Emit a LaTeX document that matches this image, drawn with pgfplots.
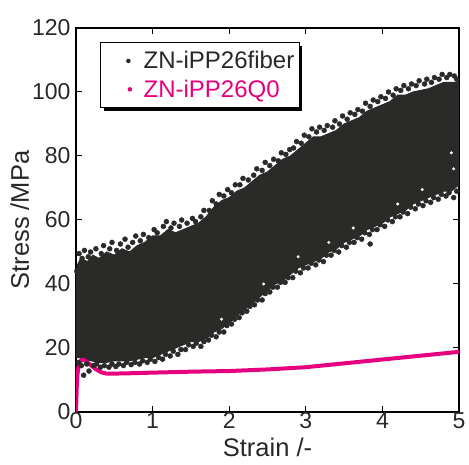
\documentclass[border=0pt]{standalone}
\usepackage{pgfplots}
\pgfplotsset{compat=1.18}
\usepackage{fontspec}
\setmainfont{Liberation Sans}
\usetikzlibrary{shadows}
\definecolor{bandc}{RGB}{42,42,40}
\definecolor{pinkc}{RGB}{230,0,126}
\definecolor{txtc}{RGB}{40,40,40}
\begin{document}
\begin{tikzpicture}
\path[use as bounding box] (-76pt,-53pt) rectangle (393pt,412pt);
\begin{axis}[
  scale only axis, width=383pt, height=384pt,
  xmin=0, xmax=5, ymin=0, ymax=120,
  xtick={0,1,2,3,4,5}, ytick={0,20,40,60,80,100,120},
  tick align=inside, major tick length=6pt,
  axis line style={line width=1.4pt},
  every tick/.style={black, line width=1pt},
  /pgf/number format/assume math mode=true,
  tick label style={font=\fontsize{23}{27}\selectfont, text=txtc},
  xticklabel style={yshift=3pt},
  yticklabel style={xshift=-2pt},
  label style={font=\fontsize{25.5}{29}\selectfont, text=txtc},
  xlabel={Strain /-}, ylabel={Stress /MPa},
  xlabel style={at={(axis description cs:0.5,-0.117)}, anchor=base},
  ylabel style={at={(axis description cs:-0.147,0.5)}, anchor=center},
  legend cell align=left,
  legend style={at={(axis description cs:0.063,0.9635)}, anchor=north west,
    draw=black, line width=1pt, font=\fontsize{24}{28}\selectfont,
    inner xsep=3pt, inner ysep=7pt, row sep=5.5pt,
    nodes={inner sep=2pt},
    drop shadow={shadow xshift=3pt, shadow yshift=-3pt, fill=black, opacity=1},
    fill=white},
]
% dense band of the fiber data
\addplot[fill=bandc, draw=bandc, line width=1pt, forget plot] coordinates {
(0.0,17) (0.0,40) (0.02,46) (0.06,48) (0.15,47) (0.22,49) (0.3,48) (0.4,50) (0.5,49)
(0.6,51) (0.7,50) (0.8,52) (0.9,53) (1.0,55) (1.1,55) (1.2,57) (1.3,56) (1.4,57)
(1.5,58) (1.6,59) (1.7,61) (1.8,64) (1.9,66) (2.0,67) (2.1,69) (2.2,70) (2.3,72)
(2.4,74) (2.5,75) (2.6,77) (2.7,79) (2.8,80) (2.9,82) (3.0,84) (3.1,86) (3.2,86)
(3.3,87) (3.4,88) (3.5,90) (3.6,91) (3.7,92) (3.8,94) (3.9,95) (4.0,96) (4.1,97)
(4.2,99) (4.3,99) (4.4,100) (4.5,100.5) (4.6,101) (4.7,102) (4.8,103) (4.9,103) (5.0,103)
(5.0,71) (4.9,69) (4.8,69) (4.7,68) (4.6,67) (4.5,66) (4.4,65) (4.3,63) (4.2,62)
(4.1,61) (4.0,59) (3.9,58) (3.8,57) (3.7,55) (3.6,54) (3.5,53) (3.4,51) (3.3,50)
(3.2,48) (3.1,47) (3.0,46) (2.9,45) (2.8,43) (2.7,41) (2.6,40) (2.5,38) (2.4,36)
(2.3,34) (2.2,32) (2.1,30) (2.0,28) (1.9,26) (1.8,25) (1.7,23) (1.6,22) (1.5,22)
(1.4,21) (1.3,20) (1.2,19) (1.1,18) (1.0,17) (0.9,17) (0.8,16.5) (0.7,16) (0.6,16)
(0.5,16) (0.4,15.5) (0.3,15.5) (0.2,16) (0.1,16.5) (0.04,17)
} -- cycle;
% scattered points along the band edges
\addplot[only marks, mark=*, mark size=2.5pt, color=bandc,
  legend image code/.code={\path[draw=none] (0,0) (38pt,0); \node[circle, fill=bandc, draw=none, inner sep=0pt, minimum size=4.5pt] at (22pt,0) {};}] coordinates {
(0.01,44) (0.04,49.5) (0.08,48) (0.11,50.5) (0.16,48.5) (0.19,50) (0.26,51) (0.33,49.5)
(0.36,52) (0.44,51) (0.47,53) (0.53,50.5) (0.58,52.5) (0.64,54) (0.68,51.5) (0.74,53)
(0.78,55) (0.84,53.5) (0.88,55.5) (0.95,54.5) (1.02,57) (1.06,56) (1.14,58) (1.18,59.5)
(1.24,57.5) (1.28,59) (1.35,58) (1.38,60) (1.45,59) (1.52,60.5) (1.56,59.5) (1.63,61)
(1.67,63) (1.74,63) (1.78,66) (1.83,65) (1.87,68) (1.93,67.5) (1.98,69.5) (2.03,68.5)
(2.08,71) (2.14,71) (2.18,73) (2.25,72.5) (2.32,74) (2.36,76) (2.43,75.5) (2.47,78)
(2.53,77) (2.58,79) (2.64,78.5) (2.68,81) (2.74,80.5) (2.79,82) (2.84,82.5) (2.88,84.5)
(2.94,84) (2.98,86.5) (3.04,86) (3.08,88.5) (3.14,87.5) (3.18,89) (3.24,88) (3.28,89.5)
(3.35,89) (3.38,91) (3.44,90) (3.48,92.5) (3.54,91.5) (3.58,93.5) (3.64,93) (3.68,94.5)
(3.74,94) (3.78,96.5) (3.84,95.5) (3.88,97.5) (3.94,97) (3.98,98.5) (4.04,98) (4.08,100)
(4.14,99) (4.18,101) (4.24,100.5) (4.28,102) (4.34,101) (4.38,102.5) (4.44,102) (4.48,103.5)
(4.55,102.5) (4.58,104) (4.64,103) (4.68,104.5) (4.74,104) (4.78,105.5) (4.84,104.5) (4.88,105.5)
(4.94,105) (4.97,104)
(0.03,15.5) (0.07,14.5) (0.1,11.5) (0.14,15) (0.17,12.8) (0.23,14.5) (0.27,15) (0.32,14)
(0.37,14.5) (0.43,14) (0.47,15) (0.52,14.2) (0.56,15) (0.62,14.5) (0.66,15.5) (0.72,14.8)
(0.77,15.5) (0.83,15) (0.87,16) (0.93,15.5) (0.97,16.5) (1.03,15.8) (1.08,17) (1.13,16.5)
(1.17,18) (1.23,17.5) (1.27,19) (1.33,18) (1.37,19.5) (1.43,19.5) (1.47,21) (1.53,20.5)
(1.57,21.5) (1.63,20.5) (1.67,22) (1.73,22.5) (1.77,24) (1.83,23.5) (1.87,25) (1.93,25)
(1.97,27) (2.03,27.5) (2.07,29) (2.13,29.5) (2.17,31) (2.23,31.5) (2.27,33) (2.33,33.5)
(2.37,35) (2.43,35) (2.47,37) (2.53,37.5) (2.57,39) (2.63,39) (2.67,40.5) (2.73,40.5)
(2.77,42) (2.83,42) (2.87,44) (2.93,43.5) (2.97,45) (3.03,45) (3.07,46.5) (3.13,46)
(3.17,47.5) (3.23,47) (3.27,49) (3.33,49) (3.37,50.5) (3.43,50) (3.47,52) (3.53,51.5)
(3.57,53) (3.63,53) (3.67,54.5) (3.73,54) (3.77,56) (3.83,55.5) (3.87,57) (3.93,57)
(3.97,58.5) (4.03,58) (4.07,60) (4.13,59.5) (4.17,61) (4.23,61) (4.27,62.5) (4.33,62)
(4.37,64) (4.43,63.5) (4.47,65) (4.53,64.5) (4.57,66) (4.63,65.5) (4.67,67) (4.73,66.5)
(4.77,68) (4.83,67.5) (4.87,68.5) (4.93,67) (4.97,69) (3.84,52.5) (4.96,71.5)
};
\addlegendentry{\textcolor{txtc}{ZN-iPP26fiber}}
% a few light specks near the lower edge of the band
\addplot[only marks, mark=*, mark size=1.3pt, color=white, forget plot] coordinates {
(1.9,29) (2.45,40) (2.9,48.5) (3.3,53) (3.62,57.5) (4.2,65) (4.52,69.5) (4.93,76) (4.9,81)
};
% quenched sample
\addplot[color=pinkc, line width=4pt, line join=round,
  legend image code/.code={\path[draw=none] (0,0) (38pt,0); \node[circle, fill=pinkc, draw=none, inner sep=0pt, minimum size=4.5pt] at (22pt,0) {};}] coordinates {
(0,0) (0.005,4) (0.01,8) (0.02,12) (0.04,15) (0.07,16.3) (0.1,16.3) (0.15,15.5)
(0.2,14.5) (0.27,13.2) (0.33,12.4) (0.4,12) (0.5,12) (0.7,12.1) (1.0,12.3)
(1.5,12.6) (2.0,12.8) (2.5,13.3) (3.0,14.0) (3.5,15.2) (4.0,16.4) (4.5,17.6) (5.0,18.8)
};
\addlegendentry{\textcolor{pinkc}{ZN-iPP26Q0}}
\end{axis}
\end{tikzpicture}
\end{document}
